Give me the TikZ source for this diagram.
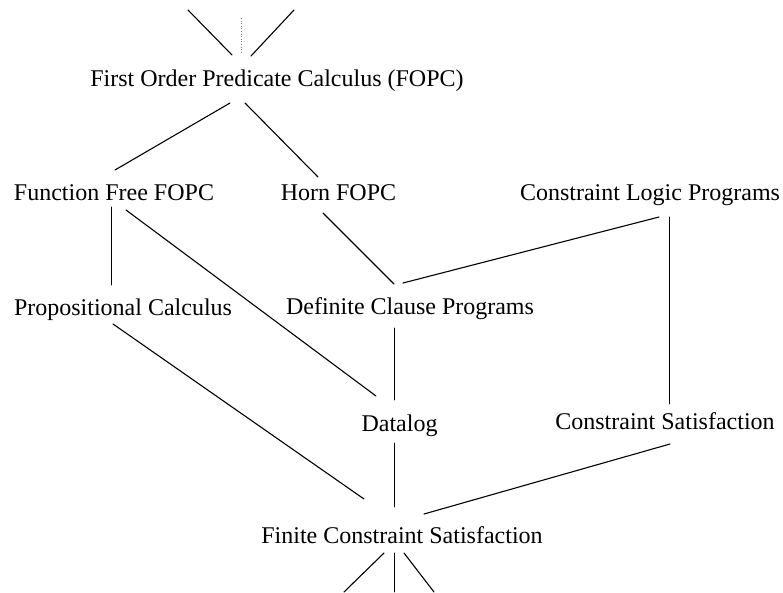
\documentclass[tikz,border=0pt]{standalone}
\usepackage{fontspec}
\setmainfont{Liberation Serif}
\usetikzlibrary{calc}
\tikzset{
  lbl/.style={inner sep=0pt, anchor=base, font=\fontsize{24}{28}\selectfont},
  edge/.style={line width=1.1pt, line cap=round},
  upright/.style={line width=0.9pt, line cap=round},
  faint/.style={line width=0.6pt, gray, dotted}
}
\begin{document}
\begin{tikzpicture}[x=1pt, y=-1pt]
  \useasboundingbox (0,0) rectangle (783,592);
  % concept nodes (placed at centre of baseline)
  \node[lbl] (fopc) at (277,86)    {First Order Predicate Calculus (FOPC)};
  \node[lbl] (fff)  at (114,200)   {Function Free FOPC};
  \node[lbl] (horn) at (338.5,200) {Horn FOPC};
  \node[lbl] (clp)  at (650,200)   {Constraint Logic Programs};
  \node[lbl] (pc)   at (123,315)   {Propositional Calculus};
  \node[lbl] (dcp)  at (410,314)   {Definite Clause Programs};
  \node[lbl] (dlog) at (399.5,431) {Datalog};
  \node[lbl] (cs)   at (665,429)   {Constraint Satisfaction};
  \node[lbl] (fcs)  at (402,543)   {Finite Constraint Satisfaction};
  % loose ends above and below
  \coordinate (topl) at (188,10);
  \coordinate (topm) at (241,18);
  \coordinate (topr) at (294,10);
  \coordinate (botl) at (344,592);
  \coordinate (botm) at (394,592);
  \coordinate (botr) at (434,592);
  % links above the top node
  \draw[edge] (topl) -- ($(fopc.base)+(-45,-31)$);
  \draw[faint] (topm) -- ($(fopc.base)+(-36,-33)$);
  \draw[edge] (topr) -- ($(fopc.base)+(-26,-30)$);
  % hierarchy links
  \draw[edge] ($(fopc.base)+(-47,17)$) -- ($(fff.base)+(1,-30)$);
  \draw[edge] ($(fopc.base)+(-32,17)$) -- ($(horn.base)+(-20.5,-23)$);
  \draw[upright] ($(fff.base)+(-2.3,7)$) -- ($(pc.base)+(-11.3,-30)$);
  \draw[edge] ($(fff.base)+(12,10)$) -- ($(dlog.base)+(-23.5,-35)$);
  \draw[edge] ($(horn.base)+(-15.5,13)$) -- ($(dcp.base)+(-16,-30)$);
  \draw[edge] ($(clp.base)+(9,17)$) -- ($(dcp.base)+(-7,-31)$);
  \draw[upright] ($(clp.base)+(19.5,17)$) -- ($(cs.base)+(4.5,-25)$);
  \draw[edge] ($(pc.base)+(-10,9)$) -- ($(fcs.base)+(-38,-44)$);
  \draw[upright] ($(dcp.base)+(-16,14)$) -- ($(dlog.base)+(-5.5,-31)$);
  \draw[upright] ($(dlog.base)+(-5.5,12)$) -- ($(fcs.base)+(-8,-36)$);
  \draw[edge] ($(cs.base)+(5,15)$) -- ($(fcs.base)+(22,-29)$);
  % links below the bottom node
  \draw[edge] ($(fcs.base)+(-18,10)$) -- (botl);
  \draw[upright] ($(fcs.base)+(-8,10)$) -- (botm);
  \draw[edge] ($(fcs.base)+(2,10)$) -- (botr);
\end{tikzpicture}
\end{document}
